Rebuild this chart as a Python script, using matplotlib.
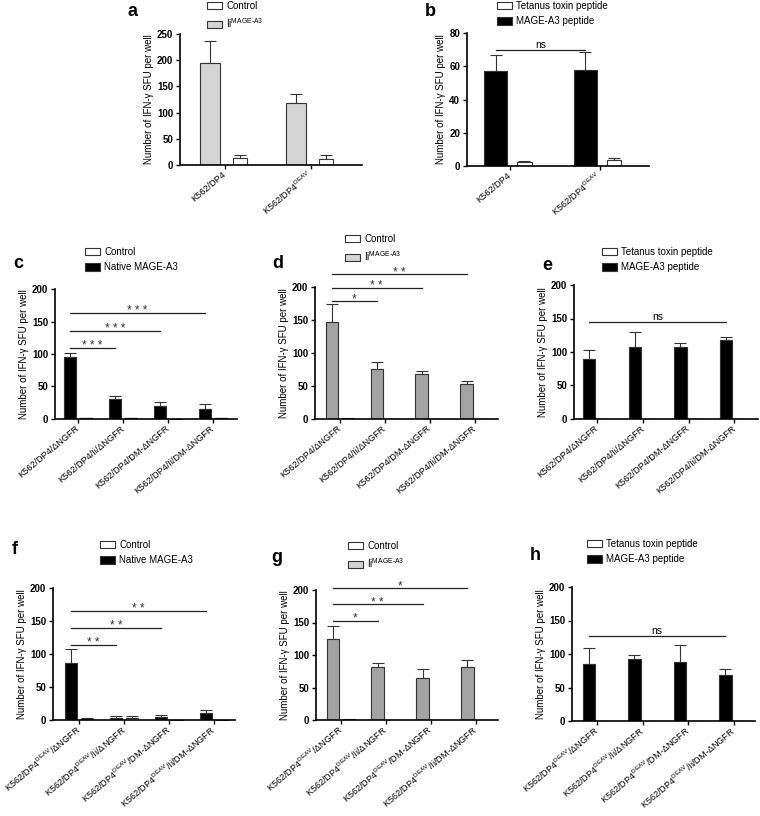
import numpy as np
import matplotlib.pyplot as plt

plt.rcParams['font.family'] = ['Liberation Sans', 'DejaVu Sans']
plt.rcParams['mathtext.fontset'] = 'custom'
plt.rcParams['mathtext.rm'] = 'Liberation Sans'
plt.rcParams['mathtext.it'] = 'Liberation Sans:italic'
plt.rcParams['mathtext.bf'] = 'Liberation Sans:bold'

ylabel = 'Number of IFN-γ SFU per well'
ii_label = r'Ii$^{\mathrm{MAGE\text{-}A3}}$'
deav = r'$^{\mathrm{DEAV}}$'

cats_ab = ['K562/DP4', 'K562/DP4' + deav]
cats_ce = ['K562/DP4/ΔNGFR', 'K562/DP4/Ii/ΔNGFR', 'K562/DP4/DM-ΔNGFR', 'K562/DP4/Ii/DM-ΔNGFR']
cats_fh = ['K562/DP4' + deav + '/ΔNGFR', 'K562/DP4' + deav + '/Ii/ΔNGFR',
           'K562/DP4' + deav + '/DM-ΔNGFR', 'K562/DP4' + deav + '/Ii/DM-ΔNGFR']

# a
a_ii = [195, 118]
a_ii_err = [41, 18]
a_ctrl = [14, 12]
a_ctrl_err = [6, 7]
# b
b_mage = [57, 57.5]
b_mage_err = [10, 11]
b_tt = [2.4, 3.8]
b_tt_err = [0.8, 1]
# c
c_native = [96, 30, 20, 16]
c_native_err = [6, 6, 6, 7]
c_ctrl = [1, 1, 0.5, 1]
c_ctrl_err = [0.5, 0.5, 0, 0.5]
# d
d_ii = [147, 76, 68, 53]
d_ii_err = [28, 11, 4, 5]
d_ctrl = [1, 0, 0, 0]
# e
e_mage = [89, 108, 107, 118]
e_mage_err = [14, 22, 6, 5]
e_tt = [0, 0, 0, 0]
# f
f_native = [87, 3, 5, 11]
f_native_err = [20, 3, 2, 4]
f_ctrl = [2, 3, 0.5, 0]
f_ctrl_err = [1, 3, 0, 0]
# g
g_ii = [125, 82, 65, 82]
g_ii_err = [19, 6, 13, 11]
g_ctrl = [1, 0, 0, 0]
# h
h_mage = [85, 92, 88, 69]
h_mage_err = [24, 7, 25, 9]
h_tt = [0, 0, 0, 0]

# significance bars: (target group, height, text), all start at group 0
c_sig = [(1, 110, '* * *'), (2, 136, '* * *'), (3, 163, '* * *')]
d_sig = [(1, 179, '*'), (2, 199, '* *'), (3, 219, '* *')]
e_sig = [(3, 145, 'ns')]
f_sig = [(1, 114, '* *'), (2, 140, '* *'), (3, 165, '* *')]
g_sig = [(1, 153, '*'), (2, 178, '* *'), (3, 203, '*')]
h_sig = [(3, 127, 'ns')]
b_sig = [(1, 70, 'ns')]

W, H = 760, 816
fig = plt.figure(figsize=(W / 100, H / 100), dpi=100)


def px_axes(left, top, right, bottom):
    return fig.add_axes([left / W, 1 - bottom / H, (right - left) / W, (bottom - top) / H])


def panel(ax, cats, main, main_err, white, white_err, color, yticks, xlim,
          w_main=0.27, w_white=0.27, offset=0.36, sig=None):
    n = len(cats)
    x = np.arange(n)
    ax.bar(x, main, w_main, color=color, edgecolor='#333333', linewidth=0.8, zorder=2)
    ax.errorbar(x, main, yerr=[np.zeros(n), main_err], fmt='none', ecolor='#333333',
                elinewidth=0.8, capsize=4, capthick=0.8, zorder=1)
    ax.bar(x + offset, white, w_white, color='white', edgecolor='#333333', linewidth=0.8, zorder=2)
    if white_err is not None:
        ax.errorbar(x + offset, white, yerr=[np.zeros(n), white_err], fmt='none',
                    ecolor='#333333', elinewidth=0.8, capsize=4, capthick=0.8, zorder=1)
    ax.set_xlim(*xlim)
    ax.set_ylim(0, yticks[-1])
    ax.set_yticks(yticks)
    ax.set_xticks(x + offset / 2)
    ax.set_xticklabels(cats, rotation=40, ha='right', va='center', rotation_mode='anchor', fontsize=6.6)
    ax.tick_params(axis='x', length=3, width=1, pad=3)
    ax.tick_params(axis='y', length=3, width=1, labelsize=7, pad=2)
    for lab in ax.get_yticklabels():
        lab.set_fontweight('bold')
    ax.spines[['top', 'right']].set_visible(False)
    ax.spines[['left', 'bottom']].set_linewidth(1.2)
    ax.set_ylabel(ylabel, fontsize=7, labelpad=2)
    if sig:
        for end, y, txt in sig:
            ax.plot([0, end], [y, y], color='#222222', lw=0.9, clip_on=False)
            if txt == 'ns':
                ax.text(end / 2, y + yticks[-1] * 0.012, txt, ha='center', va='baseline',
                        fontsize=7.5, clip_on=False)
            else:
                ax.text(end / 2, y - yticks[-1] * 0.01, txt, ha='center', va='baseline',
                        fontsize=8.5, color='#333333', clip_on=False)


def legend(labels, colors, x, y):
    handles = [plt.Rectangle((0, 0), 1, 1, facecolor=c, edgecolor='#333333', linewidth=0.8) for c in colors]
    fig.legend(handles, labels, loc='upper left', bbox_to_anchor=(x / W, 1 - y / H),
               frameon=False, fontsize=7, handlelength=1.5, handleheight=0.8,
               handletextpad=0.5, labelspacing=0.55, borderpad=0, borderaxespad=0)


def letter(s, x, y):
    fig.text(x / W, 1 - y / H, s, fontsize=13, fontweight='bold', ha='center', va='center')


light = '#d4d4d4'
mid = '#a3a3a3'

ax = px_axes(180, 34, 362, 165)
panel(ax, cats_ab, a_ii, a_ii_err, a_ctrl, a_ctrl_err, light, [0, 50, 100, 150, 200, 250],
      (-0.35, 1.77), w_main=0.23, w_white=0.16, offset=0.35)
legend(['Control', ii_label], ['white', light], 207, 1)
letter('a', 133, 12)

ax = px_axes(467, 33, 649, 166)
panel(ax, cats_ab, b_mage, b_mage_err, b_tt, b_tt_err, 'black', [0, 20, 40, 60, 80],
      (-0.32, 1.71), w_main=0.26, w_white=0.16, offset=0.32, sig=b_sig)
legend(['Tetanus toxin peptide', 'MAGE-A3 peptide'], ['white', 'black'], 497, 1)
letter('b', 430, 11)

ax = px_axes(55, 289, 237, 419)
panel(ax, cats_ce, c_native, c_native_err, c_ctrl, c_ctrl_err, 'black', [0, 50, 100, 150, 200],
      (-0.33, 3.71), sig=c_sig)
legend(['Control', 'Native MAGE-A3'], ['white', 'black'], 85, 247)
letter('c', 18, 263)

ax = px_axes(315, 287, 498, 419)
panel(ax, cats_ce, d_ii, d_ii_err, d_ctrl, None, mid, [0, 50, 100, 150, 200],
      (-0.37, 3.7), sig=d_sig)
legend(['Control', ii_label], ['white', light], 345, 234)
letter('d', 278, 263)

ax = px_axes(574, 285, 758, 419)
panel(ax, cats_ce, e_mage, e_mage_err, e_tt, None, 'black', [0, 50, 100, 150, 200],
      (-0.33, 3.7), sig=e_sig)
legend(['Tetanus toxin peptide', 'MAGE-A3 peptide'], ['white', 'black'], 602, 247)
letter('e', 547, 265)

ax = px_axes(53, 588, 235, 720)
panel(ax, cats_fh, f_native, f_native_err, f_ctrl, f_ctrl_err, 'black', [0, 50, 100, 150, 200],
      (-0.4, 3.65), sig=f_sig)
legend(['Control', 'Native MAGE-A3'], ['white', 'black'], 100, 540)
letter('f', 15, 550)

ax = px_axes(316, 590, 498, 720)
panel(ax, cats_fh, g_ii, g_ii_err, g_ctrl, None, mid, [0, 50, 100, 150, 200],
      (-0.37, 3.68), sig=g_sig)
legend(['Control', ii_label], ['white', light], 348, 541)
letter('g', 277, 557)

ax = px_axes(572, 587, 755, 721)
panel(ax, cats_fh, h_mage, h_mage_err, h_tt, None, 'black', [0, 50, 100, 150, 200],
      (-0.37, 3.65), sig=h_sig)
legend(['Tetanus toxin peptide', 'MAGE-A3 peptide'], ['white', 'black'], 587, 539)
letter('h', 535, 555)

fig.savefig('out.png', dpi=100)
